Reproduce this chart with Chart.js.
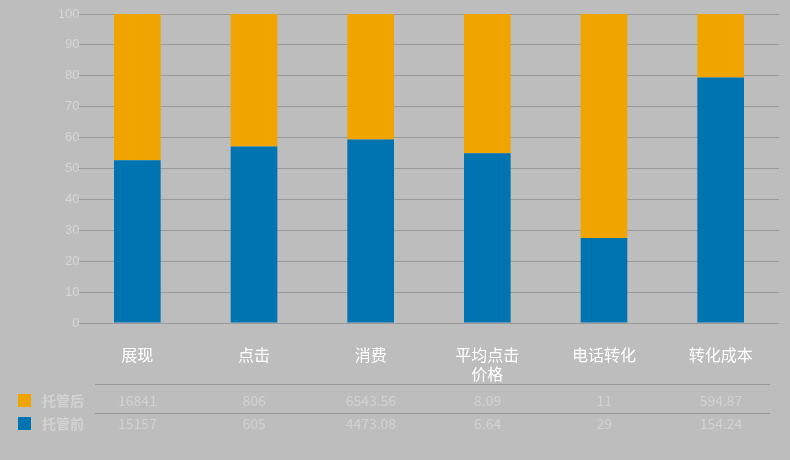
<!DOCTYPE html>
<html><head><meta charset="utf-8">
<script src="https://cdn.jsdelivr.net/npm/chart.js@4"></script>
<style>
body{margin:0;background:#bdbdbd;font-family:"Noto Sans CJK SC","Noto Sans",sans-serif}
#wrap{position:relative;width:790px;height:460px}
#tbl{position:absolute;left:0;top:384px;width:790px;color:#d2d2d2;font-size:14px}
.line{position:absolute;left:95px;width:675px;border-top:1px solid #999}
.sw{position:absolute;left:18px;width:13px;height:13px}
.nm{position:absolute;left:42px;font-weight:bold}
.v{position:absolute;width:117px;text-align:center}
</style></head>
<body><div id="wrap"><canvas id="c" width="790" height="460"></canvas><div id="tbl"></div></div>
<script>
const categories = ['展现', '点击', '消费', ['平均点击', '价格'], '电话转化', '转化成本'];
const afterLabels = ['16841', '806', '6543.56', '8.09', '11', '594.87'];
const beforeLabels = ['15157', '605', '4473.08', '6.64', '29', '154.24'];
const afterVals = afterLabels.map(Number);
const beforeVals = beforeLabels.map(Number);
const yTicks = [0, 10, 20, 30, 40, 50, 60, 70, 80, 90, 100];

// share of each category (bars drawn as 100% stacks)
const bluePct = afterVals.map(function(v, i) { return v / (v + beforeVals[i]) * 100; });
const orangePct = bluePct.map(function(v) { return 100 - v; });

new Chart(document.getElementById('c'), {
    type: 'bar',
    data: {
        labels: categories,
        datasets: [
            {data: bluePct, backgroundColor: '#0074b1', barPercentage: 0.4, categoryPercentage: 1},
            {data: orangePct, backgroundColor: '#f0a400', barPercentage: 0.4, categoryPercentage: 1},
        ],
    },
    options: {
        responsive: false,
        animation: false,
        layout: {padding: {top: 14, right: 11, bottom: 77, left: 0}},
        plugins: {legend: {display: false}, tooltip: {enabled: false}},
        scales: {
            x: {
                stacked: true,
                grid: {display: false},
                border: {display: false},
                ticks: {color: '#ffffff', font: {size: 16, family: 'Noto Sans CJK SC'}, padding: 14, maxRotation: 0},
                afterFit: function(s) { s.height = 60; },
            },
            y: {
                stacked: true, min: 0, max: 100,
                afterBuildTicks: function(s) { s.ticks = yTicks.map(function(v) { return {value: v}; }); },
                grid: {color: '#9a9a9a', drawTicks: false},
                border: {display: false},
                ticks: {color: '#d6d6d6', font: {size: 13}, padding: -12, callback: function(v) { return v + '%'; }},
                afterFit: function(s) { s.width = 79; },
            },
        },
    },
});

var html = '<div class="line" style="top:0"></div><div class="line" style="top:29px"></div>';
var rows = [['托管后', '#f0a400', afterLabels], ['托管前', '#0074b1', beforeLabels]];
for (var r = 0; r < rows.length; r++) {
    var rowTop = 6 + r * 23;
    html += '<div class="sw" style="top:' + (rowTop + 4) + 'px;background:' + rows[r][1] + '"></div>';
    html += '<div class="nm" style="top:' + rowTop + 'px">' + rows[r][0] + '</div>';
    for (var i = 0; i < 6; i++) {
        html += '<div class="v" style="top:' + rowTop + 'px;left:' + (79 + i * 116.7) + 'px">' + rows[r][2][i] + '</div>';
    }
}
document.getElementById('tbl').innerHTML = html;
</script></body></html>
